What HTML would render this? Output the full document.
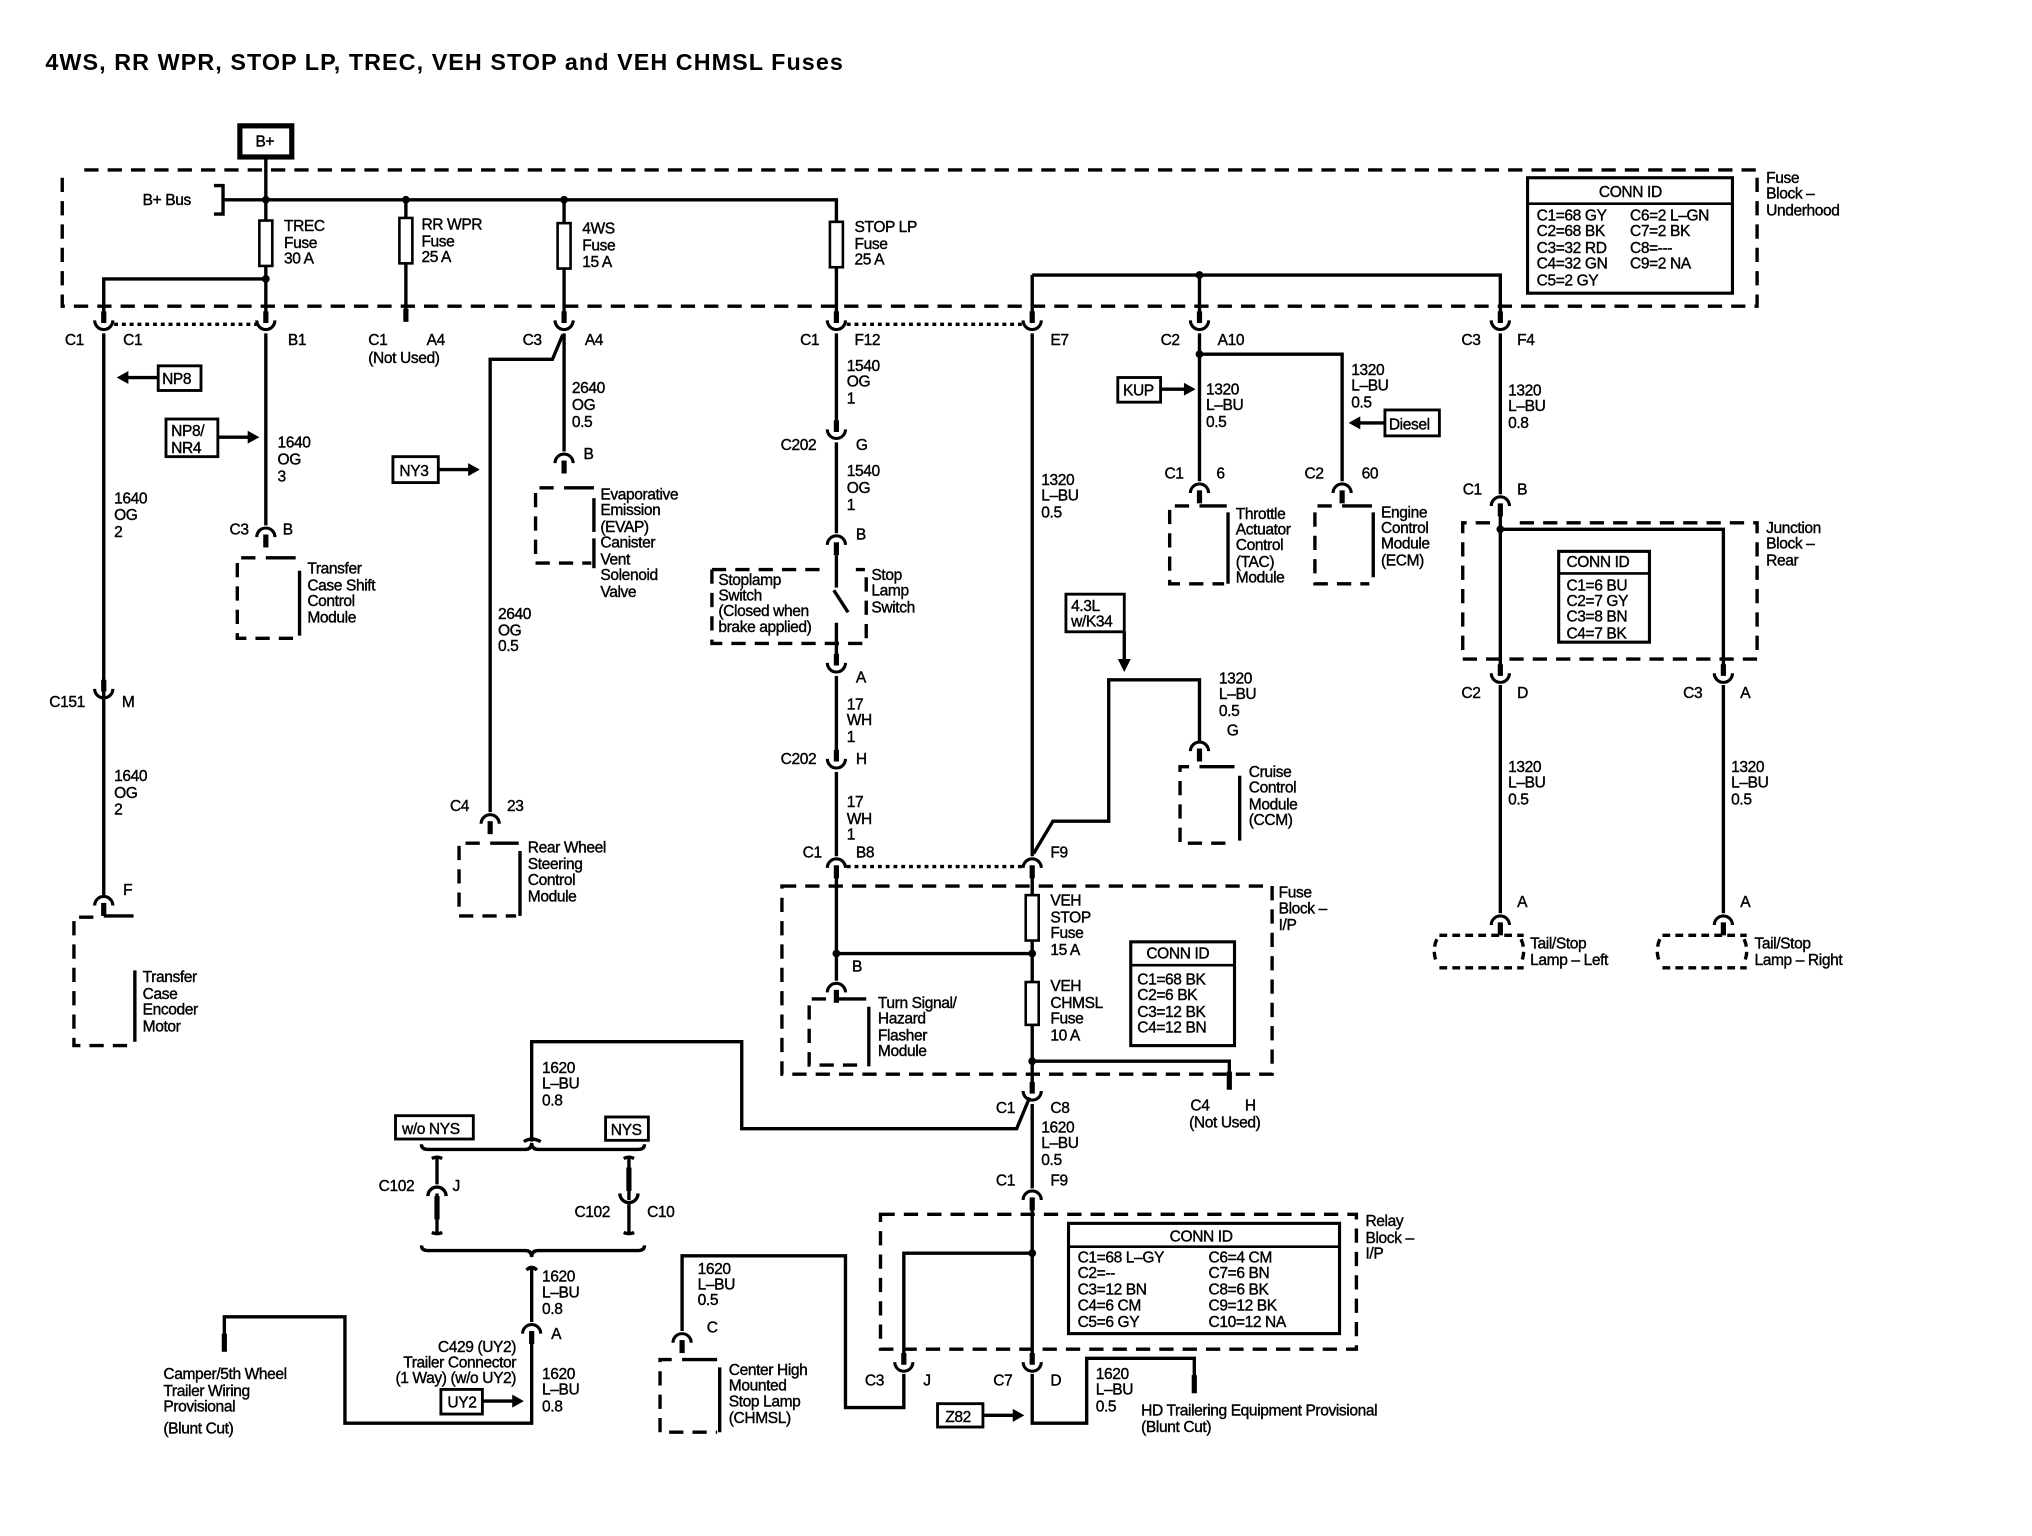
<!DOCTYPE html>
<html><head><meta charset="utf-8"><style>
html,body{margin:0;padding:0;background:#fff}
svg{display:block}
.t{font-family:"Liberation Sans",sans-serif;font-size:12px;fill:#000;letter-spacing:-0.3px;stroke:#000;stroke-width:0.3}
.w{stroke:#000;stroke-width:2.6;fill:none}
.d{stroke:#000;stroke-width:2.6;fill:none;stroke-dasharray:11 7}
.dot{stroke:#000;stroke-width:2.6;fill:none;stroke-dasharray:3 3}
.b{stroke:#000;stroke-width:2;fill:#fff}
</style></head><body>
<svg width="2032" height="1536" viewBox="0 0 1567 1184" preserveAspectRatio="none" xmlns="http://www.w3.org/2000/svg">
<defs>
<g id="m"><line x1="0" y1="-12" x2="0" y2="-3" stroke="#000" stroke-width="4"/><path d="M-7,-5 A7,7 0 0 0 7,-5" stroke="#000" stroke-width="2.4" fill="none"/></g>
<g id="f"><path d="M-7,5 A7,7 0 0 1 7,5" stroke="#000" stroke-width="2.4" fill="none"/><line x1="0" y1="3" x2="0" y2="13" stroke="#000" stroke-width="4"/></g>
<circle id="j" r="3" fill="#000"/>
</defs>

<text x="35" y="54" style="font-family:'Liberation Sans',sans-serif;font-weight:bold;font-size:18px" textLength="615">4WS, RR WPR, STOP LP, TREC, VEH STOP and VEH CHMSL Fuses</text>

<rect x="185" y="97" width="40" height="24" fill="#fff" stroke="#000" stroke-width="4"/>
<text class="t" x="197" y="113">B+</text>

<path class="d" d="M65,131 H1355 V236 H48 V131"/>
<text class="t" x="1362" y="141">Fuse</text><text class="t" x="1362" y="153">Block –</text><text class="t" x="1362" y="166">Underhood</text>
<path class="w" d="M205,122 V247"/>
<path class="w" d="M172,154 H645 V247"/>
<path class="w" d="M165,143 H172 V165 H165"/>
<text class="t" x="110" y="158">B+ Bus</text>
<use href="#j" x="205" y="154"/><use href="#j" x="313" y="154"/><use href="#j" x="435" y="154"/>
<path class="w" d="M313,154 V248"/><line x1="313" y1="238" x2="313" y2="248" stroke="#000" stroke-width="4"/>
<path class="w" d="M435,154 V247"/>
<rect class="b" x="200" y="170" width="10" height="35"/><text class="t" x="219" y="178">TREC</text><text class="t" x="219" y="191">Fuse</text><text class="t" x="219" y="203">30 A</text>
<rect class="b" x="308" y="168" width="10" height="35"/><text class="t" x="325" y="177">RR WPR</text><text class="t" x="325" y="190">Fuse</text><text class="t" x="325" y="202">25 A</text>
<rect class="b" x="430" y="172" width="10" height="35"/><text class="t" x="449" y="180">4WS</text><text class="t" x="449" y="193">Fuse</text><text class="t" x="449" y="206">15 A</text>
<rect class="b" x="640" y="171" width="10" height="35"/><text class="t" x="659" y="179">STOP LP</text><text class="t" x="659" y="192">Fuse</text><text class="t" x="659" y="204">25 A</text>
<use href="#j" x="205" y="215"/>
<path class="w" d="M205,215 H80 V247"/>

<rect x="1178" y="137" width="158" height="89" fill="#fff" stroke="#000" stroke-width="2.4"/>
<line x1="1178" y1="157" x2="1336" y2="157" stroke="#000" stroke-width="2"/>
<text class="t" x="1233" y="152">CONN ID</text>
<text class="t" x="1185" y="170">C1=68 GY</text><text class="t" x="1185" y="182">C2=68 BK</text><text class="t" x="1185" y="195">C3=32 RD</text><text class="t" x="1185" y="207">C4=32 GN</text><text class="t" x="1185" y="220">C5=2 GY</text>
<text class="t" x="1257" y="170">C6=2 L–GN</text><text class="t" x="1257" y="182">C7=2 BK</text><text class="t" x="1257" y="195">C8=---</text><text class="t" x="1257" y="207">C9=2 NA</text>

<use href="#m" x="80" y="252"/><use href="#m" x="205" y="252"/><use href="#m" x="435" y="252"/><use href="#m" x="645" y="252"/><use href="#m" x="796" y="252"/><use href="#m" x="925" y="252"/><use href="#m" x="1157" y="252"/>
<path class="dot" d="M88,250 H198"/><path class="dot" d="M653,250 H788"/>
<text class="t" x="50" y="266">C1</text><text class="t" x="95" y="266">C1</text><text class="t" x="222" y="266">B1</text>
<text class="t" x="284" y="266">C1</text><text class="t" x="329" y="266">A4</text><text class="t" x="284" y="280">(Not Used)</text>
<text class="t" x="403" y="266">C3</text><text class="t" x="451" y="266">A4</text>
<text class="t" x="617" y="266">C1</text><text class="t" x="659" y="266">F12</text>
<text class="t" x="810" y="266">E7</text>
<text class="t" x="895" y="266">C2</text><text class="t" x="939" y="266">A10</text>
<text class="t" x="1127" y="266">C3</text><text class="t" x="1170" y="266">F4</text>

<path class="w" d="M80,257 V690"/>
<rect x="122" y="282" width="33" height="19" fill="#fff" stroke="#000" stroke-width="2.2"/><text class="t" x="125" y="296">NP8</text>
<path class="w" d="M122,291 H98"/><path d="M90,291 L99,286 L99,296 Z" fill="#000"/>
<text class="t" x="88" y="388">1640</text><text class="t" x="88" y="401">OG</text><text class="t" x="88" y="414">2</text>
<use href="#m" x="80" y="536"/>
<text class="t" x="38" y="545">C151</text><text class="t" x="94" y="545">M</text>
<text class="t" x="88" y="602">1640</text><text class="t" x="88" y="615">OG</text><text class="t" x="88" y="628">2</text>
<use href="#f" x="80" y="693"/>
<text class="t" x="95" y="690">F</text>
<path class="d" d="M72,707 H57 V806 H103"/><path class="w" d="M80,706 H103"/><path class="w" d="M104,748 V803"/>
<text class="t" x="110" y="757">Transfer</text><text class="t" x="110" y="770">Case</text><text class="t" x="110" y="782">Encoder</text><text class="t" x="110" y="795">Motor</text>

<path class="w" d="M205,257 V405"/>
<rect x="128" y="323" width="40" height="29" fill="#fff" stroke="#000" stroke-width="2.2"/><text class="t" x="132" y="336">NP8/</text><text class="t" x="132" y="349">NR4</text>
<path class="w" d="M168,337 H192"/><path d="M200,337 L191,332 L191,342 Z" fill="#000"/>
<text class="t" x="214" y="345">1640</text><text class="t" x="214" y="358">OG</text><text class="t" x="214" y="371">3</text>
<use href="#f" x="205" y="409"/>
<text class="t" x="177" y="412">C3</text><text class="t" x="218" y="412">B</text>
<path class="d" d="M197,430 H183 V492 H228"/><path class="w" d="M205,430 H228"/><path class="w" d="M231,440 V490"/>
<text class="t" x="237" y="442">Transfer</text><text class="t" x="237" y="455">Case Shift</text><text class="t" x="237" y="467">Control</text><text class="t" x="237" y="480">Module</text>

<path class="w" d="M435,257 V348"/>
<text class="t" x="441" y="303">2640</text><text class="t" x="441" y="316">OG</text><text class="t" x="441" y="329">0.5</text>
<use href="#f" x="435" y="352"/><text class="t" x="450" y="354">B</text>
<path class="d" d="M427,376 H413 V434 H456"/><path class="w" d="M435,376 H458"/><path class="w" d="M458,384 V410"/><path class="w" d="M458,415 V438"/>
<text class="t" x="463" y="385">Evaporative</text><text class="t" x="463" y="397">Emission</text><text class="t" x="463" y="410">(EVAP)</text><text class="t" x="463" y="422">Canister</text><text class="t" x="463" y="435">Vent</text><text class="t" x="463" y="447">Solenoid</text><text class="t" x="463" y="460">Valve</text>
<path class="w" d="M434,258 L426,277 H378 V626"/>
<rect x="303" y="352" width="35" height="20" fill="#fff" stroke="#000" stroke-width="2.2"/><text class="t" x="308" y="367">NY3</text>
<path class="w" d="M338,362 H362"/><path d="M370,362 L361,357 L361,367 Z" fill="#000"/>
<text class="t" x="384" y="477">2640</text><text class="t" x="384" y="490">OG</text><text class="t" x="384" y="502">0.5</text>
<use href="#f" x="378" y="630"/>
<text class="t" x="347" y="625">C4</text><text class="t" x="391" y="625">23</text>
<path class="d" d="M370,650 H354 V706 H398"/><path class="w" d="M378,650 H400"/><path class="w" d="M401,656 V706"/>
<text class="t" x="407" y="657">Rear Wheel</text><text class="t" x="407" y="670">Steering</text><text class="t" x="407" y="682">Control</text><text class="t" x="407" y="695">Module</text>

<path class="w" d="M645,257 V328"/>
<text class="t" x="653" y="286">1540</text><text class="t" x="653" y="298">OG</text><text class="t" x="653" y="311">1</text>
<use href="#m" x="645" y="336"/>
<text class="t" x="602" y="347">C202</text><text class="t" x="660" y="347">G</text>
<path class="w" d="M645,341 V411"/>
<text class="t" x="653" y="367">1540</text><text class="t" x="653" y="380">OG</text><text class="t" x="653" y="393">1</text>
<use href="#f" x="645" y="415"/><text class="t" x="660" y="416">B</text>
<path class="w" d="M645,428 V453 M643,455 L654,472 M645,480 V505"/>
<path class="d" d="M549,439 H635 M549,439 V496 H668 V439 H660"/>
<text class="t" x="554" y="451">Stoplamp</text><text class="t" x="554" y="463">Switch</text><text class="t" x="554" y="475">(Closed when</text><text class="t" x="554" y="487">brake applied)</text>
<text class="t" x="672" y="447">Stop</text><text class="t" x="672" y="459">Lamp</text><text class="t" x="672" y="472">Switch</text>
<use href="#m" x="645" y="516"/><text class="t" x="660" y="526">A</text>
<path class="w" d="M645,521 V583"/>
<text class="t" x="653" y="547">17</text><text class="t" x="653" y="559">WH</text><text class="t" x="653" y="572">1</text>
<use href="#m" x="645" y="590"/>
<text class="t" x="602" y="589">C202</text><text class="t" x="660" y="589">H</text>
<path class="w" d="M645,595 V660"/>
<text class="t" x="653" y="622">17</text><text class="t" x="653" y="635">WH</text><text class="t" x="653" y="647">1</text>
<use href="#f" x="645" y="664"/>
<text class="t" x="619" y="661">C1</text><text class="t" x="660" y="661">B8</text>
<path class="dot" d="M653,668 H788"/>
<path class="w" d="M645,676 V756 M645,735 H796"/><use href="#j" x="645" y="735"/><use href="#j" x="796" y="735"/>
<use href="#f" x="645" y="760"/><text class="t" x="657" y="749">B</text>
<path class="d" d="M637,770 H624 V821 H666"/><path class="w" d="M645,770 H668"/><path class="w" d="M670,776 V822"/>
<text class="t" x="677" y="777">Turn Signal/</text><text class="t" x="677" y="789">Hazard</text><text class="t" x="677" y="802">Flasher</text><text class="t" x="677" y="814">Module</text>

<path class="d" d="M603,683 H981 V828 H603 Z"/>
<text class="t" x="986" y="692">Fuse</text><text class="t" x="986" y="704">Block –</text><text class="t" x="986" y="717">I/P</text>

<path class="w" d="M796,212 H1157 V247 M925,212 V247 M796,212 V247"/><use href="#j" x="925" y="212"/>
<path class="w" d="M796,257 V660"/>
<text class="t" x="803" y="374">1320</text><text class="t" x="803" y="386">L–BU</text><text class="t" x="803" y="399">0.5</text>
<rect x="822" y="458" width="45" height="29" fill="#fff" stroke="#000" stroke-width="2.2"/><text class="t" x="826" y="471">4.3L</text><text class="t" x="826" y="483">w/K34</text>
<path class="w" d="M867,487 V509"/><path d="M867,518 L862,508 L872,508 Z" fill="#000"/>
<path class="w" d="M797,658 L812,633 H855 V524 H925 V571"/>
<text class="t" x="940" y="527">1320</text><text class="t" x="940" y="539">L–BU</text><text class="t" x="940" y="552">0.5</text>
<use href="#f" x="925" y="574"/><text class="t" x="946" y="567">G</text>
<path class="d" d="M917,591 H910 V650 H952"/><path class="w" d="M925,591 H952"/><path class="w" d="M956,598 V648"/>
<text class="t" x="963" y="599">Cruise</text><text class="t" x="963" y="611">Control</text><text class="t" x="963" y="624">Module</text><text class="t" x="963" y="636">(CCM)</text>
<use href="#f" x="796" y="664"/><text class="t" x="810" y="661">F9</text>
<path class="w" d="M796,676 V840"/>
<rect class="b" x="791" y="690" width="10" height="35"/>
<text class="t" x="810" y="698">VEH</text><text class="t" x="810" y="711">STOP</text><text class="t" x="810" y="723">Fuse</text><text class="t" x="810" y="736">15 A</text>
<rect class="b" x="791" y="757" width="10" height="33"/>
<text class="t" x="810" y="764">VEH</text><text class="t" x="810" y="777">CHMSL</text><text class="t" x="810" y="789">Fuse</text><text class="t" x="810" y="802">10 A</text>
<rect x="872" y="726" width="80" height="80" fill="#fff" stroke="#000" stroke-width="2.4"/>
<line x1="872" y1="744" x2="952" y2="744" stroke="#000" stroke-width="2"/>
<text class="t" x="884" y="739">CONN ID</text>
<text class="t" x="877" y="759">C1=68 BK</text><text class="t" x="877" y="771">C2=6 BK</text><text class="t" x="877" y="784">C3=12 BK</text><text class="t" x="877" y="796">C4=12 BN</text>
<use href="#j" x="796" y="818"/>
<path class="w" d="M796,818 H948 V838"/><line x1="948" y1="826" x2="948" y2="840" stroke="#000" stroke-width="4"/>
<text class="t" x="918" y="856">C4</text><text class="t" x="960" y="856">H</text><text class="t" x="917" y="869">(Not Used)</text>
<use href="#m" x="796" y="846"/>
<text class="t" x="768" y="858">C1</text><text class="t" x="810" y="858">C8</text>
<path class="w" d="M794,846 L784,870 H572 V803 H410 V880"/>
<text class="t" x="418" y="827">1620</text><text class="t" x="418" y="839">L–BU</text><text class="t" x="418" y="852">0.8</text>
<path class="w" d="M796,851 V916"/>
<text class="t" x="803" y="873">1620</text><text class="t" x="803" y="885">L–BU</text><text class="t" x="803" y="898">0.5</text>
<use href="#f" x="796" y="920"/>
<text class="t" x="768" y="914">C1</text><text class="t" x="810" y="914">F9</text>
<path class="w" d="M796,932 V1047"/>
<path class="d" d="M679,936 H1046 V1040 H679 Z"/>
<text class="t" x="1053" y="945">Relay</text><text class="t" x="1053" y="958">Block –</text><text class="t" x="1053" y="970">I/P</text>
<use href="#j" x="796" y="966"/>
<path class="w" d="M796,966 H697 V1047"/>
<rect x="824" y="943" width="209" height="85" fill="#fff" stroke="#000" stroke-width="2.4"/>
<line x1="824" y1="961" x2="1033" y2="961" stroke="#000" stroke-width="2"/>
<text class="t" x="902" y="957">CONN ID</text>
<text class="t" x="831" y="973">C1=68 L–GY</text><text class="t" x="831" y="985">C2=--</text><text class="t" x="831" y="998">C3=12 BN</text><text class="t" x="831" y="1010">C4=6 CM</text><text class="t" x="831" y="1023">C5=6 GY</text>
<text class="t" x="932" y="973">C6=4 CM</text><text class="t" x="932" y="985">C7=6 BN</text><text class="t" x="932" y="998">C8=6 BK</text><text class="t" x="932" y="1010">C9=12 BK</text><text class="t" x="932" y="1023">C10=12 NA</text>
<use href="#m" x="697" y="1055"/><use href="#m" x="796" y="1055"/>
<text class="t" x="667" y="1068">C3</text><text class="t" x="712" y="1068">J</text>
<text class="t" x="766" y="1068">C7</text><text class="t" x="810" y="1068">D</text>
<path class="w" d="M697,1059 V1085 H652 V968 H526 V1026"/>
<text class="t" x="538" y="982">1620</text><text class="t" x="538" y="994">L–BU</text><text class="t" x="538" y="1006">0.5</text>
<use href="#f" x="526" y="1030"/><text class="t" x="545" y="1027">C</text>
<path class="d" d="M518,1048 H509 V1104 H553"/><path class="w" d="M526,1048 H553"/><path class="w" d="M555,1054 V1104"/>
<text class="t" x="562" y="1060">Center High</text><text class="t" x="562" y="1072">Mounted</text><text class="t" x="562" y="1084">Stop Lamp</text><text class="t" x="562" y="1097">(CHMSL)</text>
<path class="w" d="M796,1059 V1097 H838 V1047 H921 V1072"/><line x1="921" y1="1060" x2="921" y2="1074" stroke="#000" stroke-width="4"/>
<text class="t" x="845" y="1063">1620</text><text class="t" x="845" y="1075">L–BU</text><text class="t" x="845" y="1088">0.5</text>
<text class="t" x="880" y="1091">HD Trailering Equipment Provisional</text><text class="t" x="880" y="1104">(Blunt Cut)</text>
<rect x="723" y="1082" width="35" height="18" fill="#fff" stroke="#000" stroke-width="2.2"/><text class="t" x="729" y="1096">Z82</text>
<path class="w" d="M758,1091 H782"/><path d="M790,1091 L781,1086 L781,1096 Z" fill="#000"/>

<rect x="305" y="860" width="60" height="18" fill="#fff" stroke="#000" stroke-width="2.2"/><text class="t" x="310" y="874">w/o NYS</text>
<rect x="467" y="861" width="33" height="18" fill="#fff" stroke="#000" stroke-width="2.2"/><text class="t" x="471" y="875">NYS</text>
<path class="w" d="M404,880 Q410,876 417,880"/>
<path class="w" d="M325,882 Q325,886 330,886 H405 Q410,886 410,881 Q410,886 415,886 H492 Q497,886 497,882"/>
<path class="w" d="M325,960 Q325,964 330,964 H405 Q410,964 410,969 Q410,964 415,964 H492 Q497,964 497,960"/>
<path class="w" d="M333,893 Q337,891 341,893 M337,893 V913 M330,922 A7,7 0 0 1 344,922 M337,920 V935 M337,935 V950 M333,950 Q337,952 341,950"/>
<line x1="337" y1="922" x2="337" y2="940" stroke="#000" stroke-width="4"/>
<path class="w" d="M481,893 Q485,891 489,893 M485,893 V925 M478,920 A7,7 0 0 0 492,920 M485,927 V950 M481,950 Q485,952 489,950"/>
<line x1="485" y1="900" x2="485" y2="918" stroke="#000" stroke-width="4"/>
<text class="t" x="292" y="918">C102</text><text class="t" x="349" y="918">J</text>
<text class="t" x="443" y="938">C102</text><text class="t" x="499" y="938">C10</text>
<path class="w" d="M406,979 Q410,975 414,979 M410,977 V1019"/>
<text class="t" x="418" y="988">1620</text><text class="t" x="418" y="1000">L–BU</text><text class="t" x="418" y="1013">0.8</text>
<use href="#f" x="410" y="1023"/><text class="t" x="425" y="1032">A</text>
<text class="t" x="398" y="1042" text-anchor="end">C429 (UY2)</text><text class="t" x="398" y="1054" text-anchor="end">Trailer Connector</text><text class="t" x="398" y="1066" text-anchor="end">(1 Way) (w/o UY2)</text>
<text class="t" x="418" y="1063">1620</text><text class="t" x="418" y="1075">L–BU</text><text class="t" x="418" y="1088">0.8</text>
<path class="w" d="M410,1035 V1097 H266 V1015 H173 V1040"/><line x1="173" y1="1028" x2="173" y2="1042" stroke="#000" stroke-width="4"/>
<rect x="340" y="1071" width="32" height="19" fill="#fff" stroke="#000" stroke-width="2.2"/><text class="t" x="345" y="1085">UY2</text>
<path class="w" d="M372,1080 H396"/><path d="M404,1080 L395,1075 L395,1085 Z" fill="#000"/>
<text class="t" x="126" y="1063">Camper/5th Wheel</text><text class="t" x="126" y="1076">Trailer Wiring</text><text class="t" x="126" y="1088">Provisional</text><text class="t" x="126" y="1105">(Blunt Cut)</text>

<path class="w" d="M925,257 V371 M925,273 H1035 V371"/><use href="#j" x="925" y="273"/>
<rect x="862" y="291" width="33" height="19" fill="#fff" stroke="#000" stroke-width="2.2"/><text class="t" x="866" y="305">KUP</text>
<path class="w" d="M895,300 H914"/><path d="M922,300 L913,295 L913,305 Z" fill="#000"/>
<text class="t" x="930" y="304">1320</text><text class="t" x="930" y="316">L–BU</text><text class="t" x="930" y="329">0.5</text>
<text class="t" x="1042" y="289">1320</text><text class="t" x="1042" y="301">L–BU</text><text class="t" x="1042" y="314">0.5</text>
<rect x="1068" y="316" width="42" height="20" fill="#fff" stroke="#000" stroke-width="2.2"/><text class="t" x="1071" y="331">Diesel</text>
<path class="w" d="M1068,326 H1048"/><path d="M1040,326 L1049,321 L1049,331 Z" fill="#000"/>
<use href="#f" x="925" y="375"/><use href="#f" x="1035" y="375"/>
<text class="t" x="898" y="369">C1</text><text class="t" x="938" y="369">6</text><text class="t" x="1006" y="369">C2</text><text class="t" x="1050" y="369">60</text>
<path class="d" d="M917,390 H902 V450 H944"/><path class="w" d="M925,390 H946"/><path class="w" d="M947,395 V450"/>
<text class="t" x="953" y="400">Throttle</text><text class="t" x="953" y="412">Actuator</text><text class="t" x="953" y="424">Control</text><text class="t" x="953" y="437">(TAC)</text><text class="t" x="953" y="449">Module</text>
<path class="d" d="M1027,390 H1014 V450 H1056"/><path class="w" d="M1035,390 H1058"/><path class="w" d="M1059,395 V445"/>
<text class="t" x="1065" y="399">Engine</text><text class="t" x="1065" y="411">Control</text><text class="t" x="1065" y="423">Module</text><text class="t" x="1065" y="436">(ECM)</text>

<path class="w" d="M1157,257 V381"/>
<text class="t" x="1163" y="305">1320</text><text class="t" x="1163" y="317">L–BU</text><text class="t" x="1163" y="330">0.8</text>
<use href="#f" x="1157" y="385"/>
<text class="t" x="1128" y="381">C1</text><text class="t" x="1170" y="381">B</text>
<path class="d" d="M1149,403 H1128 V508 H1355 V403 H1165"/>
<text class="t" x="1362" y="411">Junction</text><text class="t" x="1362" y="423">Block –</text><text class="t" x="1362" y="436">Rear</text>
<path class="w" d="M1157,397 V516 M1157,408 H1329 V516"/><use href="#j" x="1157" y="408"/>
<rect x="1202" y="425" width="70" height="70" fill="#fff" stroke="#000" stroke-width="2.4"/>
<line x1="1202" y1="442" x2="1272" y2="442" stroke="#000" stroke-width="2"/>
<text class="t" x="1208" y="437">CONN ID</text>
<text class="t" x="1208" y="455">C1=6 BU</text><text class="t" x="1208" y="467">C2=7 GY</text><text class="t" x="1208" y="479">C3=8 BN</text><text class="t" x="1208" y="492">C4=7 BK</text>
<use href="#m" x="1157" y="524"/><use href="#m" x="1329" y="524"/>
<text class="t" x="1127" y="538">C2</text><text class="t" x="1170" y="538">D</text><text class="t" x="1298" y="538">C3</text><text class="t" x="1342" y="538">A</text>
<path class="w" d="M1157,528 V704 M1329,528 V704"/>
<text class="t" x="1163" y="595">1320</text><text class="t" x="1163" y="607">L–BU</text><text class="t" x="1163" y="620">0.5</text>
<text class="t" x="1335" y="595">1320</text><text class="t" x="1335" y="607">L–BU</text><text class="t" x="1335" y="620">0.5</text>
<use href="#f" x="1157" y="708"/><use href="#f" x="1329" y="708"/>
<text class="t" x="1170" y="699">A</text><text class="t" x="1342" y="699">A</text>
<path class="d" d="M1110,721 H1175 M1110,746 H1175 M1108,724 Q1104,733 1108,742 M1173,724 Q1177,733 1173,742" style="stroke-dasharray:6 4"/>
<path class="d" d="M1282,721 H1347 M1282,746 H1347 M1280,724 Q1276,733 1280,742 M1345,724 Q1349,733 1345,742" style="stroke-dasharray:6 4"/>
<text class="t" x="1180" y="731">Tail/Stop</text><text class="t" x="1180" y="744">Lamp – Left</text>
<text class="t" x="1353" y="731">Tail/Stop</text><text class="t" x="1353" y="744">Lamp – Right</text>
</svg>
</body></html>
